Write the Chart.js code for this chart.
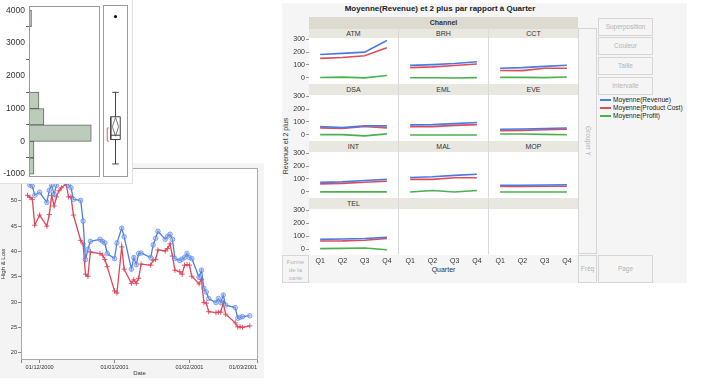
<!DOCTYPE html>
<html>
<head>
<meta charset="utf-8">
<script src="https://cdn.jsdelivr.net/npm/chart.js@4.4.0/dist/chart.umd.min.js"></script>
<style>
  body { margin: 0; width: 716px; height: 385px; background: #fff; position: relative; overflow: hidden;
         font-family: "Liberation Sans", Arial, sans-serif; color: #333; }
  .abs { position: absolute; }
  canvas { display: block; }
  .hdr { position: absolute; background: #e9e8e0; font-size: 7px; text-align: center; color: #333; }
  .btn { position: absolute; border: 1px solid #d6d6d6; box-sizing: border-box; color: #b4b4b4;
         font-size: 6.5px; text-align: center; background: #f5f5f5; }
</style>
</head>
<body>

<!-- High & Low line chart (bottom left) -->
<div class="abs" id="linePanel" style="left:0;top:163px;width:264px;height:215px;background:#f4f4f4;z-index:1">
  <canvas id="lineChart" width="264" height="215"></canvas>
</div>

<!-- histogram + box plot (top left) -->
<div class="abs" id="histPanel" style="left:0;top:0;width:132px;height:183px;background:#fff;border-right:1px solid #e2e2e2;border-bottom:1px solid #e2e2e2;z-index:3">
  <div class="abs" style="left:0;top:0;width:100px;height:183px"><canvas id="histChart" width="100" height="183"></canvas></div>
  <div class="abs" style="left:99px;top:0;width:33px;height:183px"><canvas id="boxChart" width="33" height="183"></canvas></div>
</div>

<!-- graph builder panel (right) -->
<div class="abs" id="gbPanel" style="left:282px;top:3px;width:405px;height:280px;background:#f5f5f5"></div>
<div class="abs" style="left:282px;top:4px;width:316px;font-size:8px;font-weight:bold;text-align:center;color:#222;z-index:2">Moyenne(Revenue) et 2 plus par rapport à Quarter</div>
<div class="hdr" style="left:309px;top:17px;width:269px;height:12px;line-height:12px;background:#dddbd0;font-weight:bold;z-index:2">Channel</div>
<div id="gbHeaders"></div>
<div class="abs" style="left:285px;top:146px;transform:translate(-50%,-50%) rotate(-90deg);font-size:7px;white-space:nowrap;z-index:2">Revenue et 2 plus</div>
<div class="abs" style="left:309px;top:266px;width:269px;font-size:7px;text-align:center;z-index:2">Quarter</div>

<div class="btn" style="left:282px;top:255px;width:27px;height:28px;line-height:8px;padding-top:2px;font-size:6px">Forme<br>de la<br>carte</div>
<div class="btn" style="left:578px;top:28px;width:19px;height:226px"><div class="abs" style="left:50%;top:50%;transform:translate(-50%,-50%) rotate(90deg);white-space:nowrap">Grouper Y</div></div>
<div class="btn" style="left:578px;top:255px;width:19px;height:28px;line-height:26px">Fréq</div>
<div class="btn" style="left:598px;top:255px;width:55px;height:28px;line-height:26px">Page</div>
<div class="btn" style="left:598px;top:18px;width:55px;height:18px;line-height:16px">Superposition</div>
<div class="btn" style="left:598px;top:37px;width:55px;height:18px;line-height:16px">Couleur</div>
<div class="btn" style="left:598px;top:57px;width:55px;height:18px;line-height:16px">Taille</div>
<div class="btn" style="left:598px;top:77px;width:55px;height:18px;line-height:16px">Intervalle</div>
<div id="gbLegend" class="abs" style="left:600px;top:95.5px;font-size:6.6px;z-index:2"></div>

<script>
// histogram bins (value ranges of 500) and counts
const binStarts = [-1000, -500, 0, 500, 1000, 1500, 2000, 2500, 3000, 3500];
const binCounts = [2, 2, 25, 6, 4, 0, 0, 0, 0, 1];
const histTicks = [-1000, 0, 1000, 2000, 3000, 4000];

// box plot summary
const boxWhiskers = [-690, 1480];
const boxQuartiles = [50, 180, 740];   // q1, median, q3
const meanDiamond = [150, 440, 720];   // lower, mean, upper
const outliers = [3775];
const shortestHalf = [0, 400];

// High & Low, days counted from 01/12/2000
const tradeDays = [-5, -4, -3, -2, 0, 3, 4, 5, 6, 7, 8, 9, 11, 12, 13, 14, 17, 18, 19, 20, 21,
                   25, 26, 27, 28, 31, 32, 34, 35, 38, 39, 40, 41, 42, 46, 47, 48, 49, 52, 53,
                   54, 55, 56, 58, 59, 60, 61, 62, 63, 66, 67, 68, 69, 70, 73, 74, 75, 76, 77,
                   81, 82, 83, 84, 87];
const highValues = [54.2, 53.1, 52.9, 51.1, 51.7, 49.7, 52.1, 53.1, 51.3, 53.1, 55.0, 55.6, 55.0, 53.1,
                    52.6, 50.3, 50.1, 46.0, 38.4, 40.4, 42.0, 42.4, 42.0, 41.7, 39.6, 38.6, 41.7, 44.6,
                    42.9, 36.5, 38.8, 37.4, 39.6, 39.7, 38.8, 41.3, 42.6, 44.0, 42.4, 43.0, 43.4, 42.4,
                    38.6, 38.2, 38.5, 38.8, 39.6, 38.8, 38.6, 34.9, 36.3, 32.7, 32.0, 30.7, 29.9, 30.7,
                    29.9, 31.4, 29.4, 28.9, 26.8, 27.0, 27.1, 27.3];
const lowValues = [51.1, 50.7, 50.3, 45.2, 47.2, 45.0, 47.3, 51.1, 49.0, 50.8, 52.0, 52.6, 53.3, 50.8,
                   50.8, 47.2, 42.2, 41.5, 35.5, 35.1, 39.9, 39.6, 39.3, 38.4, 37.0, 32.2, 31.8, 40.9,
                   36.5, 33.7, 34.4, 33.7, 34.7, 37.5, 37.3, 38.3, 38.4, 40.3, 40.1, 40.6, 41.5, 39.1,
                   36.3, 36.0, 35.5, 37.3, 37.4, 37.3, 35.1, 33.6, 34.5, 29.9, 29.8, 28.1, 27.9, 28.0,
                   28.0, 29.9, 27.6, 25.9, 25.1, 25.1, 25.0, 25.3];
const dateTicks = [0, 31, 62, 90];
const dateLabels = ['01/12/2000', '01/01/2001', '01/02/2001', '01/03/2001'];
const priceTicks = [20, 25, 30, 35, 40, 45, 50, 55];

// graph builder: means per channel and quarter
const quarters = ['Q1', 'Q2', 'Q3', 'Q4'];
const channels = ['ATM', 'BRH', 'CCT', 'DSA', 'EML', 'EVE', 'INT', 'MAL', 'MOP', 'TEL'];
const revenueMeans = [[182, 190, 200, 290], [97, 103, 112, 125], [75, 80, 90, 98], [65, 56, 70, 70],
                      [78, 80, 88, 96], [44, 46, 50, 54], [74, 78, 88, 97], [112, 118, 128, 137],
                      [52, 52, 54, 56], [75, 78, 82, 90]];
const costMeans = [[151, 158, 172, 233], [80, 86, 96, 108], [58, 57, 75, 75], [54, 49, 65, 54],
                   [65, 65, 74, 80], [33, 36, 40, 44], [62, 66, 75, 82], [97, 97, 110, 110],
                   [42, 42, 44, 44], [62, 63, 68, 82]];
const profitMeans = [[3, 6, 0, 18], [2, 2, 0, 3], [5, 5, 3, 8], [2, 2, -8, 8], [0, 0, 0, 0],
                     [8, 8, 5, 2], [0, 0, 0, 0], [0, 12, 0, 12], [0, 0, 0, 0], [3, 5, 8, -5]];
const seriesNames = ['Moyenne(Revenue)', 'Moyenne(Product Cost)', 'Moyenne(Profit)'];
const facetTicks = [0, 100, 200, 300];

const seriesColors = ['#4a7be3', '#e04c5c', '#4caf50'];

Chart.defaults.font.family = '"Liberation Sans", Arial, sans-serif';
Chart.defaults.color = '#333';
Chart.defaults.animation = false;

// fills the plot area and draws a frame round it
const framePlugin = {
  id: 'frame',
  beforeDraw(chart, args, opts) {
    const a = chart.chartArea, ctx = chart.ctx;
    if (opts.fill) {
      ctx.save();
      ctx.fillStyle = opts.fill;
      ctx.fillRect(a.left, a.top, a.right - a.left, a.bottom - a.top);
      ctx.restore();
    }
  },
  afterDraw(chart, args, opts) {
    if (!opts.stroke) return;
    const a = chart.chartArea, ctx = chart.ctx;
    ctx.save();
    ctx.strokeStyle = opts.stroke;
    ctx.lineWidth = 1;
    ctx.strokeRect(Math.round(a.left) + 0.5, Math.round(a.top) + 0.5,
                   Math.round(a.right - a.left) - 1, Math.round(a.bottom - a.top) - 1);
    ctx.restore();
  }
};

const ticksFrom = list => scale => { scale.ticks = list.map(v => ({ value: v })); };

// histogram (horizontal bars)
new Chart(document.getElementById('histChart'), {
  type: 'bar',
  data: {
    datasets: [{
      data: binStarts.map((b, i) => ({ x: binCounts[i], y: b + 250 })).filter(p => p.x > 0),
      backgroundColor: '#bccbbb',
      borderColor: '#5f6b5c',
      borderWidth: 1,
      borderSkipped: false,
      barPercentage: 1,
      categoryPercentage: 1
    }]
  },
  options: {
    indexAxis: 'y',
    responsive: false,
    layout: { padding: { top: 5, bottom: 6, left: 0, right: 0 } },
    plugins: { legend: { display: false }, tooltip: { enabled: false }, frame: { stroke: '#9a9a9a' } },
    scales: {
      x: { type: 'linear', min: 0, max: 28.5, display: false },
      y: {
        type: 'linear', min: -1085, max: 4125, offset: false,
        afterBuildTicks: ticksFrom(histTicks),
        afterFit: s => { s.width = 29; },
        grid: { drawOnChartArea: false, tickLength: 3, color: '#666' },
        border: { display: false },
        ticks: { font: { size: 8.5 }, color: '#333', padding: 1, callback: v => String(v) }
      }
    }
  },
  plugins: [framePlugin]
});

// box plot pieces, drawn as short lines in data space
const bx = 0.5, bw = 0.19, cw = 0.13, dw = 0.125, sx = 0.17;
const seg = (pts, color, width) => ({
  data: pts.map(p => ({ x: p[0], y: p[1] })),
  showLine: true, borderColor: color, borderWidth: width || 1, pointRadius: 0, fill: false
});
const [q1, med, q3] = boxQuartiles;
new Chart(document.getElementById('boxChart'), {
  type: 'scatter',
  data: {
    datasets: [
      seg([[bx, boxWhiskers[0]], [bx, q1]], '#444'),
      seg([[bx, q3], [bx, boxWhiskers[1]]], '#444'),
      seg([[bx - cw, boxWhiskers[0]], [bx + cw, boxWhiskers[0]]], '#444'),
      seg([[bx - cw, boxWhiskers[1]], [bx + cw, boxWhiskers[1]]], '#444'),
      seg([[bx - bw, q1], [bx + bw, q1], [bx + bw, q3], [bx - bw, q3], [bx - bw, q1]], '#444'),
      seg([[bx - bw, med], [bx + bw, med]], '#444'),
      seg([[bx, meanDiamond[0]], [bx + dw, meanDiamond[1]], [bx, meanDiamond[2]],
           [bx - dw, meanDiamond[1]], [bx, meanDiamond[0]]], '#555', 0.8),
      seg([[sx + 0.06, shortestHalf[0]], [sx, shortestHalf[0]], [sx, shortestHalf[1]],
           [sx + 0.06, shortestHalf[1]]], '#e05a6a'),
      {
        data: outliers.map(v => ({ x: bx, y: v })),
        pointRadius: 1.6, pointBackgroundColor: '#111', pointBorderWidth: 0
      }
    ]
  },
  options: {
    responsive: false,
    layout: { padding: { top: 5, bottom: 6, left: 0, right: 4 } },
    plugins: { legend: { display: false }, tooltip: { enabled: false }, frame: { stroke: '#9a9a9a' } },
    scales: {
      x: { type: 'linear', min: 0, max: 1, display: false },
      y: { type: 'linear', min: -1085, max: 4125, display: false }
    }
  },
  plugins: [framePlugin]
});

// High & Low line chart
new Chart(document.getElementById('lineChart'), {
  type: 'line',
  data: {
    datasets: [
      {
        label: 'High',
        data: tradeDays.map((d, i) => ({ x: d, y: highValues[i] })),
        borderColor: '#4f7fe2', borderWidth: 1.3, tension: 0,
        pointStyle: 'circle', pointRadius: 2.3,
        pointBackgroundColor: 'rgba(140,170,240,0.45)', pointBorderColor: 'rgba(80,125,225,0.75)', pointBorderWidth: 0.8
      },
      {
        label: 'Low',
        data: tradeDays.map((d, i) => ({ x: d, y: lowValues[i] })),
        borderColor: '#e0475c', borderWidth: 1.3, tension: 0,
        pointStyle: 'cross', pointRadius: 2.6,
        pointBorderColor: '#e0475c', pointBorderWidth: 0.9
      }
    ]
  },
  options: {
    responsive: false,
    layout: { padding: { top: 5, right: 6, left: 0, bottom: 0 } },
    plugins: { legend: { display: false }, tooltip: { enabled: false }, frame: { fill: '#fff', stroke: '#a8a8a8' } },
    scales: {
      x: {
        type: 'linear', min: -7.7, max: 90.4,
        afterBuildTicks: s => { s.ticks = [{ value: s.min }].concat(dateTicks.map(v => ({ value: v }))); },
        afterFit: s => { s.height = 18; },
        grid: { drawOnChartArea: false, tickLength: 3, color: '#888' },
        border: { display: false },
        ticks: {
          align: 'inner', autoSkip: false, maxRotation: 0, padding: 1,
          font: { size: 5.6 }, color: '#333',
          callback: v => { const i = dateTicks.indexOf(v); return i < 0 ? '' : dateLabels[i]; }
        },
        title: { display: true, text: 'Date', font: { size: 6 }, color: '#333', padding: { top: 0, bottom: 1 } }
      },
      y: {
        type: 'linear', min: 18.55, max: 56.5,
        afterBuildTicks: ticksFrom(priceTicks),
        afterFit: s => { s.width = 21; },
        grid: { drawOnChartArea: false, tickLength: 3, color: '#888' },
        border: { display: false },
        ticks: { font: { size: 5.6 }, color: '#333', padding: 1 },
        title: { display: true, text: 'High & Low', font: { size: 6 }, color: '#333', padding: 0 }
      }
    }
  },
  plugins: [framePlugin]
});

// graph builder facets
const colX = [309, 399, 489];
const colW = [89, 89, 89];
const rowTop = [38, 95, 152, 209];
const headerTop = [29, 84, 141, 198];
const plotH = 46;

// header bands with channel names
const hdrBox = document.getElementById('gbHeaders');
rowTop.forEach((t, r) => {
  colX.forEach((x, c) => {
    const d = document.createElement('div');
    d.className = 'hdr';
    const h = t - headerTop[r];
    d.style.cssText = `left:${x}px;top:${headerTop[r]}px;width:${colW[c]}px;height:${h}px;line-height:${h}px;z-index:2`;
    d.textContent = channels[r * 3 + c] || '';
    hdrBox.appendChild(d);
  });
});
// column separators
[398, 488].forEach(x => {
  const d = document.createElement('div');
  d.className = 'abs';
  d.style.cssText = `left:${x}px;top:29px;width:1px;height:225px;background:#d9d9d9;z-index:4`;
  document.body.appendChild(d);
});

function makeFacet(k) {
  const r = Math.floor(k / 3), c = k % 3;
  const showY = c === 0, showX = r === 3;
  const padB = showX ? 0 : 5;
  const left = colX[c] - (showY ? 26 : 0);
  const width = colW[c] + (showY ? 26 : 0);
  const top = rowTop[r] - 5;
  const height = plotH + 5 + (showX ? 13 : padB);
  const wrap = document.createElement('div');
  wrap.className = 'abs';
  wrap.style.cssText = `left:${left}px;top:${top}px;width:${width}px;height:${height}px;z-index:3`;
  const canvas = document.createElement('canvas');
  canvas.width = width;
  canvas.height = height;
  wrap.appendChild(canvas);
  document.body.appendChild(wrap);

  const lists = [revenueMeans, costMeans, profitMeans];
  const datasets = k < channels.length ? lists.map((list, s) => ({
    label: seriesNames[s],
    data: list[k],
    borderColor: seriesColors[s],
    borderWidth: 1.6,
    pointRadius: 0,
    tension: 0
  })) : [];

  new Chart(canvas, {
    type: 'line',
    data: { labels: quarters, datasets },
    options: {
      responsive: false,
      layout: { padding: { top: 5, left: 0, right: 0, bottom: padB } },
      plugins: { legend: { display: false }, tooltip: { enabled: false }, frame: { fill: '#fff' } },
      scales: {
        x: {
          type: 'category', offset: true, display: showX,
          afterFit: s => { if (showX) s.height = 13; },
          grid: { display: false, drawTicks: false, tickLength: 0 },
          border: { display: false },
          ticks: { font: { size: 7 }, color: '#333', padding: 2, maxRotation: 0, autoSkip: false }
        },
        y: {
          min: -46, max: 308, display: showY,
          afterBuildTicks: ticksFrom(facetTicks),
          afterFit: s => { if (showY) s.width = 26; },
          grid: { drawOnChartArea: false, tickLength: 3, color: '#999' },
          border: { display: false },
          ticks: { font: { size: 7 }, color: '#333', padding: 1, autoSkip: false }
        }
      }
    },
    plugins: [framePlugin]
  });
}
for (let k = 0; k < 12; k++) makeFacet(k);

// legend list for the three series
const legend = document.getElementById('gbLegend');
seriesNames.forEach((name, i) => {
  const row = document.createElement('div');
  row.style.cssText = 'height:8.2px;line-height:8.2px;white-space:nowrap;color:#222';
  row.innerHTML = `<span style="display:inline-block;width:11px;height:1.6px;background:${seriesColors[i]};vertical-align:middle;margin-right:2px"></span>${name}`;
  legend.appendChild(row);
});
</script>
</body>
</html>
